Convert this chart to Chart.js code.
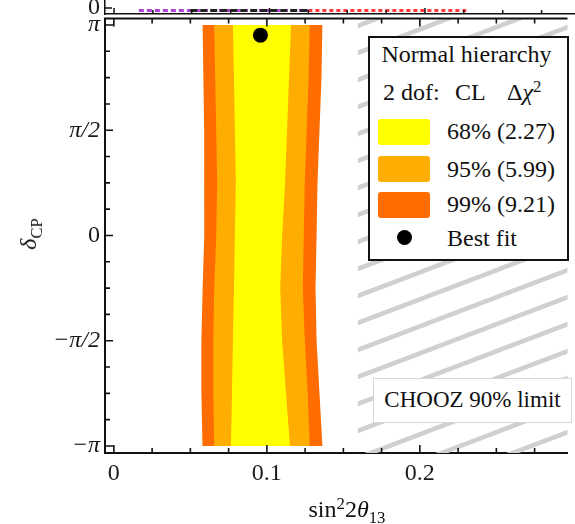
<!DOCTYPE html>
<html lang="en">
<head>
<meta charset="UTF-8">
<title>delta_CP vs sin^2 2theta13</title>
<script src="https://cdn.jsdelivr.net/npm/chart.js@4.4.0/dist/chart.umd.min.js"></script>
<style>
    html, body { margin: 0; padding: 0; background: #fff; overflow: hidden; }
    #wrap { position: relative; width: 575px; height: 524px; overflow: hidden;
            font-family: 'Liberation Serif', 'DejaVu Serif', serif; color: #111; }
    #main { position: absolute; left: 0; top: 0; }
    #strip { position: absolute; left: 0; top: -24px; }
    sub, sup { font-size: 70%; line-height: 0; position: relative; vertical-align: baseline; }
    sup { top: -0.5em; }
    sub { top: 0.35em; }
    #legend { position: absolute; left: 368px; top: 36px; width: 201px; height: 225px;
              box-sizing: border-box; border: 2px solid #111; background: #fff; font-size: 24px; line-height: 24px; }
    #legend div, #legend span { position: absolute; white-space: nowrap; }
    .sw { width: 52px; height: 26px; border-radius: 3px; }
    .dot { width: 15px; height: 15px; border-radius: 50%; background: #000; }
    #chooz { position: absolute; left: 373px; top: 378px; width: 199px; height: 45px; box-sizing: border-box;
             border: 1.5px solid #d6d6d6; background: #fff; font-size: 23px; line-height: 42px; text-align: center; }
    #xtitle { position: absolute; left: 347px; top: 497px; transform: translateX(-50%);
              font-size: 24px; line-height: 24px; white-space: nowrap; }
    #ytitle { position: absolute; left: 28px; top: 234px; transform: translate(-50%, -50%) rotate(-90deg);
              font-size: 24px; line-height: 24px; white-space: nowrap; }
</style>
</head>
<body>
<div id="wrap">
    <canvas id="main" width="575" height="524"></canvas>
    <canvas id="strip" width="575" height="40"></canvas>
    <div id="legend">
        <div style="left:0; width:193px; text-align:center; top:4px;">Normal hierarchy</div>
        <div style="left:13px; top:42px;">2 dof:</div>
        <div style="left:85px; top:42px;">CL</div>
        <div style="left:137px; top:42px;">&Delta;<i>&chi;</i><sup>2</sup></div>
        <span class="sw" id="sw68" style="left:8px; top:81px;"></span>
        <span class="sw" id="sw95" style="left:8px; top:118px;"></span>
        <span class="sw" id="sw99" style="left:8px; top:154px;"></span>
        <span class="dot" style="left:27px; top:192px;"></span>
        <div style="left:77px; top:81px;">68% (2.27)</div>
        <div style="left:77px; top:119px;">95% (5.99)</div>
        <div style="left:77px; top:154px;">99% (9.21)</div>
        <div style="left:77px; top:188px;">Best fit</div>
    </div>
    <div id="chooz">CHOOZ 90% limit</div>
    <div id="xtitle">sin<sup>2</sup>2<i>&theta;</i><sub>13</sub></div>
    <div id="ytitle"><i>&delta;</i><sub>CP</sub></div>
</div>
<script>
const PI = Math.PI;

// contour boundaries (sin^2 2theta13) at each deltaCP
const deltaCP   = [PI, 3*PI/4, PI/2, PI/4, 0, -PI/4, -PI/2, -3*PI/4, -PI];
const cl99Left  = [0.0580, 0.0585, 0.0590, 0.0592, 0.0590, 0.0580, 0.0572, 0.0572, 0.0579];
const cl95Left  = [0.0656, 0.0662, 0.0669, 0.0675, 0.0669, 0.0656, 0.0650, 0.0650, 0.0656];
const cl68Left  = [0.0778, 0.0785, 0.0791, 0.0797, 0.0791, 0.0785, 0.0778, 0.0772, 0.0765];
const cl68Right = [0.1158, 0.1145, 0.1132, 0.1119, 0.1100, 0.1087, 0.1100, 0.1125, 0.1151];
const cl95Right = [0.1280, 0.1273, 0.1260, 0.1248, 0.1241, 0.1235, 0.1248, 0.1267, 0.1280];
const cl99Right = [0.1363, 0.1357, 0.1344, 0.1331, 0.1325, 0.1318, 0.1325, 0.1344, 0.1363];

const bestFitX = [0.0958];
const bestFitY = [2.99];
const choozLimit = 0.1595;

const xTicks  = [0, 0.1, 0.2];
const xLabels = ['0', '0.1', '0.2'];
const yTicks  = [-PI, -PI/2, 0, PI/2, PI];
const yLabels = ['\u2212\u03c0', '\u2212\u03c0/2', '0', '\u03c0/2', '\u03c0'];

// lower edge of the panel above (only a sliver is visible)
const upperPurpleX = [0.016, 0.125];
const upperBlackX  = [0.049, 0.125];
const upperRedX    = [0.125, 0.228];
const upperLevel   = [-0.4, -0.4];

const col68 = '#ffff00', col95 = '#ffad00', col99 = '#ff6c00';
const FONT = "'Liberation Serif', 'DejaVu Serif', serif";
const xMin = -0.0058, xMax = 0.2965;
const yMin = -3.2465, yMax = 3.2386;

document.getElementById('sw68').style.background = col68;
document.getElementById('sw95').style.background = col95;
document.getElementById('sw99').style.background = col99;

function band(left, right) {
    const pts = left.map((x, i) => ({x: x, y: deltaCP[i]}));
    for (let i = right.length - 1; i >= 0; i--) pts.push({x: right[i], y: deltaCP[i]});
    return pts;
}

function hatch() {
    const c = document.createElement('canvas');
    c.width = 71; c.height = 27;
    const g = c.getContext('2d');
    g.strokeStyle = '#d0d0d0';
    g.lineWidth = 4.5;
    for (const dy of [-27, 0, 27]) {
        g.beginPath();
        g.moveTo(-71, 54 + dy);
        g.lineTo(142, -27 + dy);
        g.stroke();
    }
    return g.createPattern(c, 'repeat');
}

function polygon(data, color, order) {
    return {data: data, backgroundColor: color, borderWidth: 0, pointRadius: 0,
            fill: 'shape', tension: 0, order: order};
}

const frameTicks = {
    id: 'frameTicks',
    afterDatasetsDraw(chart) {
        const {ctx, chartArea: a, scales: {x, y}} = chart;
        ctx.save();
        ctx.strokeStyle = '#111';
        ctx.lineWidth = 2;
        ctx.beginPath();
        ctx.moveTo(a.left - 1, a.top);
        ctx.lineTo(a.right, a.top);
        ctx.stroke();
        ctx.lineWidth = 1.6;
        ctx.beginPath();
        for (let k = 0; k * 0.025 <= x.max; k++) {
            const px = x.getPixelForValue(k * 0.025);
            const len = k % 4 === 0 ? 8 : 5;
            ctx.moveTo(px, a.bottom); ctx.lineTo(px, a.bottom - len);
            ctx.moveTo(px, a.top); ctx.lineTo(px, a.top + len);
        }
        for (let k = -8; k <= 8; k++) {
            const py = y.getPixelForValue(k * PI / 8);
            const len = k % 4 === 0 ? 8 : 5;
            ctx.moveTo(a.left, py); ctx.lineTo(a.left + len, py);
        }
        ctx.stroke();
        ctx.restore();
    }
};

new Chart(document.getElementById('main'), {
    type: 'line',
    data: {
        datasets: [
            {data: bestFitX.map((x, i) => ({x: x, y: bestFitY[i]})), showLine: false,
             pointRadius: 7.5, pointBackgroundColor: '#000', pointBorderWidth: 0, order: 0},
            polygon(band(cl68Left, cl68Right), col68, 1),
            polygon(band(cl95Left, cl95Right), col95, 2),
            polygon(band(cl99Left, cl99Right), col99, 3),
            polygon([{x: choozLimit, y: 5}, {x: choozLimit, y: -5}, {x: 1, y: -5}, {x: 1, y: 5}], hatch(), 4)
        ]
    },
    options: {
        responsive: false,
        animation: false,
        events: [],
        layout: {padding: {top: 18.5, right: 0, bottom: 0, left: 0}},
        plugins: {legend: {display: false}, tooltip: {enabled: false}},
        scales: {
            x: {
                type: 'linear', min: xMin, max: xMax,
                afterBuildTicks: s => { s.ticks = xTicks.map(v => ({value: v})); },
                afterFit: s => { s.height = 71; s.paddingLeft = 0; s.paddingRight = 0; },
                ticks: {autoSkip: false, maxRotation: 0, padding: 6, color: '#1a1a1a',
                        font: {family: FONT, size: 24}, callback: (v, i) => xLabels[i]},
                grid: {display: false, drawTicks: false},
                border: {display: true, color: '#111', width: 2}
            },
            y: {
                type: 'linear', min: yMin, max: yMax,
                afterBuildTicks: s => { s.ticks = yTicks.map(v => ({value: v})); },
                afterFit: s => { s.width = 105; s.paddingTop = 0; s.paddingBottom = 0; },
                ticks: {autoSkip: false, padding: 5, color: '#1a1a1a',
                        font: c => ({family: FONT, size: 24,
                                     style: c.tick && c.tick.value !== 0 ? 'italic' : 'normal'}),
                        callback: (v, i) => yLabels[i]},
                grid: {display: false, drawTicks: false},
                border: {display: true, color: '#111', width: 2}
            }
        }
    },
    plugins: [frameTicks]
});

const stripTicks = {
    id: 'stripTicks',
    afterDatasetsDraw(chart) {
        const {ctx, chartArea: a, scales: {x, y}} = chart;
        ctx.save();
        ctx.strokeStyle = '#111';
        ctx.lineWidth = 1.5;
        ctx.beginPath();
        for (let k = 0; k * 0.025 <= x.max; k++) {
            const px = x.getPixelForValue(k * 0.025);
            const len = k % 4 === 0 ? 6 : 4;
            ctx.moveTo(px, a.bottom); ctx.lineTo(px, a.bottom - len);
        }
        const py = y.getPixelForValue(0);
        ctx.moveTo(a.left, py); ctx.lineTo(a.left + 7, py);
        ctx.stroke();
        ctx.restore();
    }
};

function upperLine(xs, color, dash, order) {
    return {data: xs.map((x, i) => ({x: x, y: upperLevel[i]})), borderColor: color, borderWidth: 3,
            borderDash: dash, pointRadius: 0, fill: false, order: order};
}

new Chart(document.getElementById('strip'), {
    type: 'line',
    data: {
        datasets: [
            upperLine(upperBlackX, '#222', [7, 3], 0),
            upperLine(upperPurpleX, '#b044d8', [5, 3], 1),
            upperLine(upperRedX, '#ff3a3a', [4, 3], 2)
        ]
    },
    options: {
        responsive: false,
        animation: false,
        events: [],
        layout: {padding: 0},
        plugins: {legend: {display: false}, tooltip: {enabled: false}},
        scales: {
            x: {
                type: 'linear', min: xMin, max: xMax,
                afterFit: s => { s.height = 2; s.paddingLeft = 0; s.paddingRight = 0; },
                ticks: {display: false},
                grid: {display: false, drawTicks: false},
                border: {display: true, color: '#111', width: 1.5}
            },
            y: {
                type: 'linear', min: -1, max: 5.33,
                afterBuildTicks: s => { s.ticks = [{value: 0}]; },
                afterFit: s => { s.width = 105; s.paddingTop = 0; s.paddingBottom = 0; },
                ticks: {padding: 5, color: '#1a1a1a', font: {family: FONT, size: 24},
                        callback: () => '0'},
                grid: {display: false, drawTicks: false},
                border: {display: true, color: '#111', width: 1.5}
            }
        }
    },
    plugins: [stripTicks]
});
</script>
</body>
</html>
